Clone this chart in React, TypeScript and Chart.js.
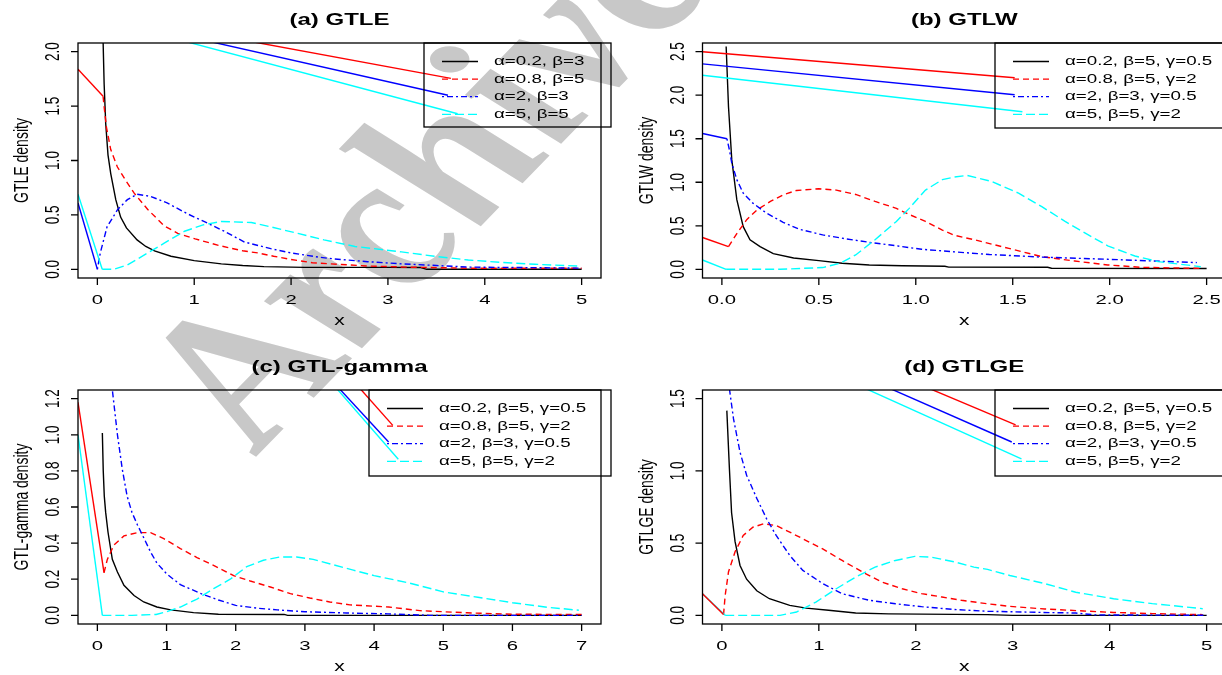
import React, { useEffect, useRef } from "react";
import { Chart, registerables } from "chart.js";

Chart.register(...registerables);

type Pt = [number, number];

// ---------- shared legend labels ----------
const legendLabelsA = ["α=0.2, β=3", "α=0.8, β=5", "α=2, β=3", "α=5, β=5"];
const legendLabelsG = ["α=0.2, β=5, γ=0.5", "α=0.8, β=5, γ=2", "α=2, β=3, γ=0.5", "α=5, β=5, γ=2"];

// ---------- (a) GTLE ----------
const gtleXTicks = ["0", "1", "2", "3", "4", "5"];
const gtleYTicks = ["0.0", "0.5", "1.0", "1.5", "2.0"];
const gtleBlack: Pt[] = [[0.05, 2.6], [0.059, 2.1], [0.07, 1.7], [0.086, 1.34], [0.11, 1.05], [0.138, 0.88], [0.19, 0.64], [0.24, 0.48], [0.3, 0.38], [0.41, 0.27], [0.5, 0.21], [0.59, 0.17], [0.76, 0.12], [1.0, 0.08], [1.28, 0.05], [1.5, 0.035], [1.72, 0.025], [2.14, 0.018], [2.5, 0.018], [3.0, 0.018], [3.34, 0.016], [3.4, 0.0], [5.0, 0.0]];
const gtleRed: Pt[] = [[0.059, 1.59], [0.069, 1.5], [0.093, 1.31], [0.138, 1.1], [0.207, 0.94], [0.29, 0.82], [0.38, 0.7], [0.52, 0.55], [0.69, 0.4], [0.83, 0.33], [1.01, 0.28], [1.25, 0.22], [1.5, 0.17], [1.66, 0.15], [1.82, 0.12], [2.0, 0.09], [2.22, 0.06], [2.5, 0.045], [2.8, 0.03], [3.2, 0.02], [3.83, 0.01], [5.0, 0.01]];
const gtleBlue: Pt[] = [[0.0, 0.0], [0.03, 0.15], [0.1, 0.39], [0.21, 0.55], [0.31, 0.64], [0.41, 0.69], [0.55, 0.67], [0.72, 0.61], [0.93, 0.51], [1.1, 0.44], [1.31, 0.35], [1.52, 0.25], [1.79, 0.19], [2.0, 0.15], [2.3, 0.11], [2.45, 0.095], [2.79, 0.07], [3.14, 0.05], [3.5, 0.035], [3.83, 0.02], [4.5, 0.015], [5.0, 0.01]];
const gtleCyan: Pt[] = [[0.05, 0.0], [0.17, 0.0], [0.31, 0.04], [0.52, 0.15], [0.69, 0.24], [0.9, 0.35], [1.1, 0.41], [1.28, 0.44], [1.59, 0.43], [1.79, 0.39], [2.07, 0.33], [2.34, 0.27], [2.66, 0.21], [3.14, 0.16], [3.48, 0.12], [3.83, 0.085], [4.17, 0.064], [4.52, 0.046], [4.97, 0.03]];
const gtleRedLead: Pt[] = [[-0.2, 1.84], [0.059, 1.59]];
const gtleBlueLead: Pt[] = [[-0.2, 0.61], [0.0, 0.0]];
const gtleCyanLead: Pt[] = [[-0.2, 0.69], [0.05, 0.0]];
const gtleRedLegendLead: Pt[] = [[1.0, 2.19], [3.65, 1.755]];
const gtleBlueLegendLead: Pt[] = [[1.0, 2.126], [3.62, 1.6]];
const gtleCyanLegendLead: Pt[] = [[0.8, 2.12], [3.72, 1.43]];

// ---------- (b) GTLW ----------
const gtlwXTicks = ["0.0", "0.5", "1.0", "1.5", "2.0", "2.5"];
const gtlwYTicks = ["0.0", "0.5", "1.0", "1.5", "2.0", "2.5"];
const gtlwBlack: Pt[] = [[0.022, 2.56], [0.034, 1.87], [0.051, 1.26], [0.077, 0.8], [0.11, 0.49], [0.145, 0.34], [0.197, 0.26], [0.265, 0.18], [0.37, 0.13], [0.5, 0.1], [0.62, 0.07], [0.76, 0.05], [0.93, 0.04], [1.15, 0.035], [1.17, 0.025], [1.68, 0.023], [1.7, 0.012], [2.5, 0.01]];
const gtlwRed: Pt[] = [[0.034, 0.26], [0.077, 0.41], [0.128, 0.57], [0.18, 0.68], [0.25, 0.78], [0.32, 0.86], [0.385, 0.906], [0.5, 0.925], [0.59, 0.91], [0.69, 0.86], [0.79, 0.78], [0.9, 0.7], [0.966, 0.63], [1.05, 0.55], [1.137, 0.45], [1.2, 0.39], [1.31, 0.335], [1.48, 0.24], [1.65, 0.145], [1.82, 0.095], [1.99, 0.05], [2.16, 0.023], [2.47, 0.01]];
const gtlwBlue: Pt[] = [[0.026, 1.5], [0.039, 1.37], [0.051, 1.22], [0.077, 1.03], [0.11, 0.875], [0.16, 0.76], [0.23, 0.645], [0.316, 0.54], [0.4, 0.46], [0.52, 0.395], [0.64, 0.35], [0.76, 0.31], [0.9, 0.27], [1.03, 0.23], [1.2, 0.2], [1.38, 0.17], [1.65, 0.14], [1.99, 0.115], [2.45, 0.077]];
const gtlwCyan: Pt[] = [[0.022, 0.0], [0.3, 0.0], [0.52, 0.02], [0.61, 0.07], [0.69, 0.165], [0.79, 0.34], [0.9, 0.55], [0.966, 0.7], [1.05, 0.91], [1.137, 1.03], [1.2, 1.06], [1.265, 1.078], [1.39, 1.01], [1.53, 0.875], [1.65, 0.72], [1.77, 0.55], [1.89, 0.395], [1.99, 0.27], [2.13, 0.153], [2.25, 0.088], [2.47, 0.03]];
const gtlwRedLead: Pt[] = [[-0.1, 0.365], [0.034, 0.26]];
const gtlwBlueLead: Pt[] = [[-0.1, 1.56], [0.026, 1.5]];
const gtlwCyanLead: Pt[] = [[-0.1, 0.107], [0.022, 0.0]];
const gtlwRedLegendLead: Pt[] = [[-0.1, 2.5], [1.51, 2.2]];
const gtlwBlueLegendLead: Pt[] = [[-0.1, 2.36], [1.51, 2.005]];
const gtlwCyanLegendLead: Pt[] = [[-0.1, 2.23], [1.55, 1.81]];

// ---------- (c) GTL-gamma ----------
const gtlgXTicks = ["0", "1", "2", "3", "4", "5", "6", "7"];
const gtlgYTicks = ["0.0", "0.2", "0.4", "0.6", "0.8", "1.0", "1.2"];
const gtlgBlack: Pt[] = [[0.072, 1.01], [0.085, 0.8], [0.1, 0.66], [0.12, 0.57], [0.154, 0.46], [0.216, 0.31], [0.29, 0.24], [0.384, 0.166], [0.53, 0.11], [0.67, 0.074], [0.86, 0.046], [1.06, 0.03], [1.39, 0.015], [1.75, 0.006], [2.7, 0.005], [2.75, 0.0], [7.0, 0.0]];
const gtlgRed: Pt[] = [[0.096, 0.236], [0.144, 0.31], [0.24, 0.39], [0.384, 0.44], [0.576, 0.458], [0.77, 0.458], [0.96, 0.425], [1.2, 0.37], [1.44, 0.32], [1.68, 0.277], [1.97, 0.22], [2.21, 0.19], [2.5, 0.157], [2.79, 0.12], [3.07, 0.096], [3.36, 0.074], [3.65, 0.058], [4.21, 0.046], [4.66, 0.026], [5.34, 0.014], [6.0, 0.006], [7.0, 0.005]];
const gtlgBlue: Pt[] = [[0.18, 1.5], [0.216, 1.25], [0.29, 1.0], [0.36, 0.81], [0.43, 0.66], [0.5, 0.57], [0.58, 0.5], [0.67, 0.43], [0.77, 0.35], [0.86, 0.29], [1.0, 0.23], [1.2, 0.17], [1.5, 0.12], [1.75, 0.085], [2.0, 0.055], [2.3, 0.04], [2.6, 0.03], [3.0, 0.02], [3.6, 0.013], [4.2, 0.008], [4.8, 0.0], [7.0, 0.0]];
const gtlgCyan: Pt[] = [[0.072, 0.0], [0.5, 0.0], [0.85, 0.005], [1.0, 0.02], [1.2, 0.046], [1.44, 0.09], [1.68, 0.148], [1.92, 0.2], [2.16, 0.27], [2.4, 0.305], [2.64, 0.323], [2.88, 0.323], [3.12, 0.31], [3.41, 0.28], [3.7, 0.25], [4.0, 0.22], [4.5, 0.18], [5.0, 0.13], [5.5, 0.1], [6.0, 0.07], [6.5, 0.045], [6.96, 0.028]];
const gtlgRedLead: Pt[] = [[-0.28, 1.18], [0.096, 0.236]];
const gtlgCyanLead: Pt[] = [[-0.28, 1.0], [0.072, 0.0]];
const gtlgRedLegendLead: Pt[] = [[3.7, 1.298], [4.27, 1.052]];
const gtlgBlueLegendLead: Pt[] = [[3.4, 1.296], [4.21, 0.96]];
const gtlgCyanLegendLead: Pt[] = [[3.36, 1.3], [4.35, 0.864]];

// ---------- (d) GTLGE ----------
const gtlgeXTicks = ["0", "1", "2", "3", "4", "5"];
const gtlgeYTicks = ["0.0", "0.5", "1.0", "1.5"];
const gtlgeBlack: Pt[] = [[0.051, 1.417], [0.078, 1.01], [0.1, 0.71], [0.136, 0.51], [0.187, 0.345], [0.255, 0.25], [0.36, 0.17], [0.49, 0.115], [0.7, 0.069], [0.87, 0.05], [1.1, 0.035], [1.38, 0.016], [1.72, 0.01], [2.74, 0.005], [3.0, 0.0], [5.0, 0.0]];
const gtlgeRed: Pt[] = [[0.017, 0.005], [0.034, 0.138], [0.068, 0.3], [0.136, 0.44], [0.22, 0.553], [0.32, 0.61], [0.43, 0.634], [0.56, 0.622], [0.7, 0.576], [0.87, 0.518], [1.04, 0.46], [1.24, 0.38], [1.45, 0.3], [1.65, 0.23], [1.86, 0.184], [2.06, 0.15], [2.27, 0.127], [2.47, 0.104], [2.74, 0.08], [2.97, 0.062], [3.33, 0.044], [3.73, 0.03], [4.04, 0.02], [4.44, 0.012], [4.96, 0.005]];
const gtlgeBlue: Pt[] = [[0.06, 1.7], [0.078, 1.567], [0.12, 1.36], [0.187, 1.13], [0.255, 0.97], [0.36, 0.81], [0.46, 0.67], [0.56, 0.553], [0.7, 0.415], [0.835, 0.311], [1.04, 0.22], [1.24, 0.15], [1.52, 0.104], [1.79, 0.08], [2.06, 0.06], [2.4, 0.04], [2.74, 0.028], [2.97, 0.025], [3.3, 0.02], [3.65, 0.016], [3.85, 0.003], [5.0, 0.0]];
const gtlgeCyan: Pt[] = [[0.034, 0.0], [0.6, 0.0], [0.77, 0.023], [0.97, 0.092], [1.18, 0.184], [1.38, 0.265], [1.58, 0.334], [1.79, 0.38], [1.99, 0.408], [2.16, 0.403], [2.4, 0.37], [2.6, 0.334], [2.74, 0.318], [2.97, 0.276], [3.33, 0.22], [3.65, 0.16], [4.04, 0.115], [4.44, 0.081], [4.96, 0.046]];
const gtlgeRedLead: Pt[] = [[-0.2, 0.15], [0.017, 0.005]];
const gtlgeCyanLead: Pt[] = [[-0.2, 0.15], [0.034, 0.0]];
const gtlgeRedLegendLead: Pt[] = [[2.0, 1.61], [3.03, 1.318]];
const gtlgeBlueLegendLead: Pt[] = [[1.6, 1.61], [2.99, 1.2]];
const gtlgeCyanLegendLead: Pt[] = [[1.35, 1.61], [3.09, 1.083]];

// ---------- styles ----------
const COLORS = ["#000000", "#FF0000", "#0000FF", "#00FFFF"];
const DASHES: number[][] = [[], [6, 4], [2, 3, 6, 3], [9, 4]];
const SX = 1.5; // the reference figure is stretched horizontally
const FONT = '"Liberation Sans", Arial, Helvetica, sans-serif';

interface Lead { c: number; pts: Pt[] }
interface PanelCfg {
  title: string; yLabel: string;
  xMin: number; xMax: number; yMin: number; yMax: number;
  xTicks: string[]; yTicks: string[];
  curves: Pt[][]; leads: Lead[];
  labels: string[]; legendW: number; legendH: number;
  left: number; top: number; width: number; height: number;
  pad: { left: number; right: number; top: number; bottom: number };
}

const panels: PanelCfg[] = [
  {
    title: "(a) GTLE", yLabel: "GTLE density", xMin: -0.2, xMax: 5.2, yMin: -0.08, yMax: 2.08,
    xTicks: gtleXTicks, yTicks: gtleYTicks, curves: [gtleBlack, gtleRed, gtleBlue, gtleCyan],
    leads: [{ c: 1, pts: gtleRedLead }, { c: 2, pts: gtleBlueLead }, { c: 3, pts: gtleCyanLead },
      { c: 1, pts: gtleRedLegendLead }, { c: 2, pts: gtleBlueLegendLead }, { c: 3, pts: gtleCyanLegendLead }],
    labels: legendLabelsA, legendW: 177, legendH: 84,
    left: 0, top: 0, width: 620, height: 337, pad: { left: 78, right: 19, top: 43, bottom: 59 },
  },
  {
    title: "(b) GTLW", yLabel: "GTLW density", xMin: -0.1, xMax: 2.6, yMin: -0.1, yMax: 2.6,
    xTicks: gtlwXTicks, yTicks: gtlwYTicks, curves: [gtlwBlack, gtlwRed, gtlwBlue, gtlwCyan],
    leads: [{ c: 1, pts: gtlwRedLead }, { c: 2, pts: gtlwBlueLead }, { c: 3, pts: gtlwCyanLead },
      { c: 1, pts: gtlwRedLegendLead }, { c: 2, pts: gtlwBlueLegendLead }, { c: 3, pts: gtlwCyanLegendLead }],
    labels: legendLabelsG, legendW: 231, legendH: 85,
    left: 611, top: 0, width: 620, height: 337, pad: { left: 91.5, right: 5, top: 43, bottom: 59 },
  },
  {
    title: "(c) GTL-gamma", yLabel: "GTL-gamma density", xMin: -0.28, xMax: 7.28, yMin: -0.048, yMax: 1.248,
    xTicks: gtlgXTicks, yTicks: gtlgYTicks, curves: [gtlgBlack, gtlgRed, gtlgBlue, gtlgCyan],
    leads: [{ c: 1, pts: gtlgRedLead }, { c: 3, pts: gtlgCyanLead },
      { c: 1, pts: gtlgRedLegendLead }, { c: 2, pts: gtlgBlueLegendLead }, { c: 3, pts: gtlgCyanLegendLead }],
    labels: legendLabelsG, legendW: 232, legendH: 86,
    left: 0, top: 337, width: 620, height: 338, pad: { left: 78, right: 19, top: 53, bottom: 51 },
  },
  {
    title: "(d) GTLGE", yLabel: "GTLGE density", xMin: -0.2, xMax: 5.2, yMin: -0.06, yMax: 1.56,
    xTicks: gtlgeXTicks, yTicks: gtlgeYTicks, curves: [gtlgeBlack, gtlgeRed, gtlgeBlue, gtlgeCyan],
    leads: [{ c: 1, pts: gtlgeRedLead }, { c: 3, pts: gtlgeCyanLead },
      { c: 1, pts: gtlgeRedLegendLead }, { c: 2, pts: gtlgeBlueLegendLead }, { c: 3, pts: gtlgeCyanLegendLead }],
    labels: legendLabelsG, legendW: 231, legendH: 86,
    left: 611, top: 337, width: 620, height: 338, pad: { left: 91.5, right: 5, top: 53, bottom: 51 },
  },
];

function txt(ctx: CanvasRenderingContext2D, s: string, x: number, y: number,
  o: { size: number; bold?: boolean; align?: CanvasTextAlign; rot?: number }) {
  ctx.save();
  ctx.translate(x, y);
  ctx.scale(SX, 1);
  if (o.rot) ctx.rotate(o.rot);
  ctx.font = `${o.bold ? "bold " : ""}${o.size}px ${FONT}`;
  ctx.textAlign = o.align || "center";
  ctx.textBaseline = "middle";
  ctx.fillStyle = "#000";
  ctx.fillText(s, 0, 0);
  ctx.restore();
}

function makeFramePlugin(cfg: PanelCfg) {
  return {
    id: "rframe",
    afterDraw(chart: any) {
      const ctx: CanvasRenderingContext2D = chart.ctx;
      const ca = chart.chartArea;
      const xs = chart.scales.x;
      const ys = chart.scales.y;
      ctx.save();
      ctx.strokeStyle = "#000";
      ctx.lineWidth = 1.3;
      ctx.setLineDash([]);
      // box
      ctx.strokeRect(ca.left, ca.top, ca.right - ca.left, ca.bottom - ca.top);
      // axis ticks
      ctx.beginPath();
      cfg.xTicks.forEach((t) => {
        const px = xs.getPixelForValue(parseFloat(t));
        ctx.moveTo(px, ca.bottom);
        ctx.lineTo(px, ca.bottom + 7);
      });
      cfg.yTicks.forEach((t) => {
        const py = ys.getPixelForValue(parseFloat(t));
        ctx.moveTo(ca.left, py);
        ctx.lineTo(ca.left - 7, py);
      });
      ctx.stroke();
      cfg.xTicks.forEach((t) => {
        const px = xs.getPixelForValue(parseFloat(t));
        txt(ctx, t, px, ca.bottom + 22, { size: 13.5 });
      });
      cfg.yTicks.forEach((t) => {
        const py = ys.getPixelForValue(parseFloat(t));
        txt(ctx, t, ca.left - 24.5, py, { size: 13.5, rot: -Math.PI / 2 });
      });
      // titles
      const cx = (ca.left + ca.right) / 2;
      txt(ctx, cfg.title, cx, ca.top - 22.5, { size: 16, bold: true });
      txt(ctx, "x", cx, ca.bottom + 43, { size: 14 });
      txt(ctx, cfg.yLabel, ca.left - 55.5, (ca.top + ca.bottom) / 2, { size: 14, rot: -Math.PI / 2 });
      // legend
      const lx = ca.right - cfg.legendW;
      const ly = ca.top;
      ctx.lineWidth = 1.3;
      ctx.strokeRect(lx, ly, cfg.legendW + 10, cfg.legendH);
      cfg.labels.forEach((lab, i) => {
        const ry = ly + 18.5 + i * 17.6;
        ctx.beginPath();
        ctx.strokeStyle = COLORS[i];
        ctx.setLineDash(DASHES[i]);
        ctx.moveTo(lx + 18, ry);
        ctx.lineTo(lx + 54, ry);
        ctx.stroke();
        ctx.setLineDash([]);
        txt(ctx, lab, lx + 70, ry, { size: 12.5, align: "left" });
      });
      ctx.restore();
    },
  };
}

function Panel({ cfg }: { cfg: PanelCfg }) {
  const ref = useRef<HTMLCanvasElement>(null);
  useEffect(() => {
    if (!ref.current) return;
    const datasets: any[] = [];
    cfg.curves.forEach((pts, i) => {
      datasets.push({
        data: pts.map(([x, y]) => ({ x, y })),
        borderColor: COLORS[i], borderDash: DASHES[i], borderWidth: 1.4,
        showLine: true, pointRadius: 0, tension: 0, order: 3 - i,
      });
    });
    cfg.leads.forEach((l) => {
      datasets.push({
        data: l.pts.map(([x, y]) => ({ x, y })),
        borderColor: COLORS[l.c], borderDash: [], borderWidth: 1.4,
        showLine: true, pointRadius: 0, tension: 0, order: 0,
      });
    });
    const chart = new Chart(ref.current, {
      type: "scatter",
      data: { datasets },
      options: {
        animation: false, responsive: false, devicePixelRatio: 1, events: [],
        layout: { padding: cfg.pad },
        scales: {
          x: { type: "linear", min: cfg.xMin, max: cfg.xMax, display: false, bounds: "data" },
          y: { type: "linear", min: cfg.yMin, max: cfg.yMax, display: false, bounds: "data" },
        },
        plugins: { legend: { display: false }, tooltip: { enabled: false }, title: { display: false } },
      },
      plugins: [makeFramePlugin(cfg)],
    } as any);
    return () => chart.destroy();
  }, [cfg]);
  return (
    <canvas ref={ref} width={cfg.width} height={cfg.height}
      style={{ position: "absolute", left: cfg.left, top: cfg.top, width: cfg.width, height: cfg.height }} />
  );
}

export default function App() {
  return (
    <div style={{ position: "absolute", left: 0, top: 0, width: 1222, height: 675, overflow: "hidden", background: "#fff" }}>
      <div style={{
        position: "absolute", left: 300, top: 290, height: 175, transformOrigin: "0 100%",
        transform: "scaleX(1.5) rotate(-57deg)", font: 'italic bold 175px "Liberation Serif", "DejaVu Serif", serif',
        color: "#c8c8c8", whiteSpace: "nowrap", lineHeight: 1,
      }}>Archive</div>
      {panels.map((p, i) => <Panel key={i} cfg={p} />)}
    </div>
  );
}
